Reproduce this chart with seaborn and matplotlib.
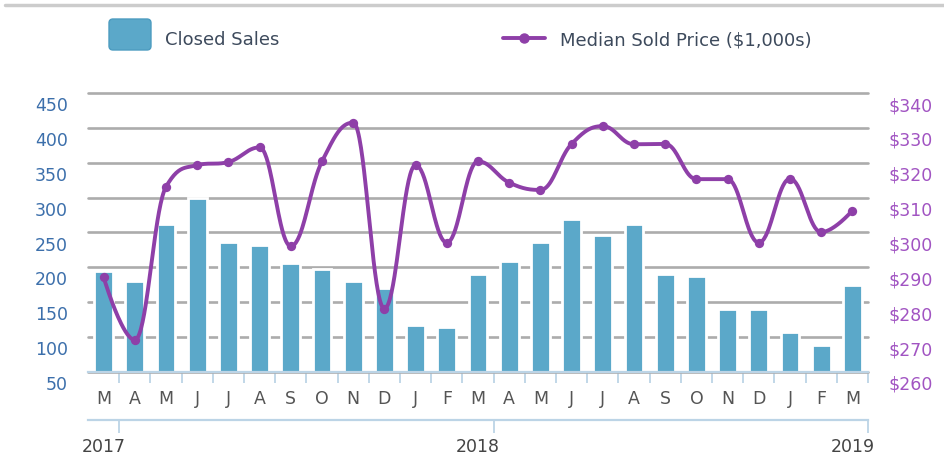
import numpy as np
import pandas as pd
import matplotlib
matplotlib.use("Agg")
import matplotlib.pyplot as plt
import seaborn as sns
from matplotlib.transforms import ScaledTranslation
from matplotlib.patches import FancyBboxPatch
from matplotlib.lines import Line2D

# ---------------- data ----------------
months = ["M", "A", "M", "J", "J", "A", "S", "O", "N", "D", "J", "F",
          "M", "A", "M", "J", "J", "A", "S", "O", "N", "D", "J", "F", "M"]
years = ["2017", "2018", "2019"]
year_positions = [0, 12, 24]
closed_sales = [195, 180, 262, 300, 236, 232, 206, 198, 180, 171, 118, 115,
                190, 209, 236, 270, 247, 262, 190, 187, 141, 141, 107, 88, 175]
median_price = [287.2, 269.2, 313.1, 319.3, 320.2, 324.4, 296.1, 320.4, 331.5,
                278.2, 319.3, 297.1, 320.4, 314.3, 312.2, 325.4, 330.5, 325.3,
                325.4, 315.3, 315.3, 297.1, 315.4, 300.1, 306.3]
left_ticks = [50, 100, 150, 200, 250, 300, 350, 400, 450]
right_ticks = [260, 270, 280, 290, 300, 310, 320, 330, 340]
legend_labels = ["Closed Sales", "Median Sold Price ($1,000s)"]

# ---------------- style ----------------
BAR = "#5ba8c9"
BAR_EDGE = "#4d9cc0"
PURPLE = "#8e3fa8"
RIGHT_LAB = "#a154c2"
LEFT_LAB = "#3c6fab"
AXLINE = "#bcd4e6"
GRID = "#acacac"
MONTH_COL = "#555555"

sns.set_style("white")
plt.rcParams["font.family"] = ["DejaVu Sans"]

W, H = 944, 465
fig = plt.figure(figsize=(W / 100, H / 100), dpi=100)
L, R = 88 / W, 868 / W
B, T = 1 - 372 / H, 1 - 93 / H
ax = fig.add_axes([L, B, R - L, T - B])

n = len(closed_sales)
idx = np.arange(n)
df = pd.DataFrame({"idx": idx, "sales": closed_sales})
sns.barplot(data=df, x="idx", y="sales", color=BAR, saturation=1, width=0.6,
            edgecolor="white", linewidth=2, ax=ax, zorder=2)

ax.set_xlim(-0.5, n - 0.5)
ax.set_ylim(left_ticks[0], left_ticks[-1])
ax.set_xlabel("")
ax.set_ylabel("")
ax.set_axisbelow(True)
ax.xaxis.grid(False)
for s in ["top", "left", "right"]:
    ax.spines[s].set_visible(False)
ax.spines["bottom"].set_color(AXLINE)
ax.spines["bottom"].set_linewidth(1.6)
ax.spines["bottom"].set_zorder(3)

ax.set_yticks(left_ticks)
ax.set_yticklabels([str(v) for v in left_ticks])
ax.tick_params(axis="y", length=0, pad=14.4, labelsize=12.5, labelcolor=LEFT_LAB)
ax.yaxis.grid(True, color=GRID, lw=1.9)
for gl in ax.get_ygridlines():
    gl.set_clip_on(False)

ax.set_xticks(idx + 0.5)
ax.set_xticklabels([""] * n)
ax.set_xticks(idx, minor=True)
ax.set_xticklabels(months, minor=True)
ax.tick_params(axis="x", which="major", bottom=True, length=8, width=1.3,
               color=AXLINE, direction="out")
ax.tick_params(axis="x", which="minor", bottom=True, length=0, pad=13,
               labelsize=12.5, labelcolor=MONTH_COL)

# ---------------- price line ----------------
ax2 = ax.twinx()
ax2.set_ylim(right_ticks[0], right_ticks[-1])
ax2.grid(False)
for s in ax2.spines.values():
    s.set_visible(False)
ax2.set_yticks(right_ticks)
ax2.set_yticklabels(["\\$%d" % v for v in right_ticks])
ax2.tick_params(axis="y", length=0, pad=15, labelsize=12.5, labelcolor=RIGHT_LAB)

# smooth spline through the points (control points as in Highcharts' "spline")
y = np.asarray(median_price, dtype=float)
sm, den = 1.5, 2.5
lc = np.full(n, np.nan)
rc = np.full(n, np.nan)
for i in range(1, n - 1):
    py, ly, ny = y[i], y[i - 1], y[i + 1]
    l = (sm * py + ly) / den
    r = (sm * py + ny) / den
    corr = py - (l + r) / 2
    l += corr
    r += corr
    if l > ly and l > py:
        l = max(ly, py); r = 2 * py - l
    elif l < ly and l < py:
        l = min(ly, py); r = 2 * py - l
    if r > ny and r > py:
        r = max(ny, py); l = 2 * py - r
    elif r < ny and r < py:
        r = min(ny, py); l = 2 * py - r
    lc[i], rc[i] = l, r
cx = 1 / den
xs, ys = [], []
t = np.linspace(0, 1, 40)
for i in range(n - 1):
    x0, x3 = i, i + 1
    x1 = i + cx if i > 0 else i
    x2 = i + 1 - cx if i + 1 < n - 1 else i + 1
    y0, y3 = y[i], y[i + 1]
    y1 = rc[i] if i > 0 else y[i]
    y2 = lc[i + 1] if i + 1 < n - 1 else y[i + 1]
    b0, b1, b2, b3 = (1 - t) ** 3, 3 * t * (1 - t) ** 2, 3 * t ** 2 * (1 - t), t ** 3
    xs.append(b0 * x0 + b1 * x1 + b2 * x2 + b3 * x3)
    ys.append(b0 * y0 + b1 * y1 + b2 * y2 + b3 * y3)
curve = pd.DataFrame({"x": np.concatenate(xs), "y": np.concatenate(ys)})
ax2.plot(curve["x"], curve["y"], color=PURPLE, lw=2.8, zorder=3,
         solid_capstyle="round", solid_joinstyle="round")
sns.scatterplot(x=idx, y=median_price, ax=ax2, color=PURPLE, s=45,
                edgecolor=PURPLE, linewidth=0, zorder=4, legend=False)
ax2.set_ylabel("")

# shift y tick labels slightly below gridlines, like the reference
off = ScaledTranslation(0, -11 / 100, fig.dpi_scale_trans)
for lab in ax.get_yticklabels() + ax2.get_yticklabels():
    lab.set_transform(lab.get_transform() + off)

# ---------------- year axis ----------------
axy = fig.add_axes([L, 1 - 420 / H, R - L, 0.0001])
axy.patch.set_visible(False)
axy.set_xlim(-0.5, n - 0.5)
axy.set_yticks([])
for s in ["top", "left", "right"]:
    axy.spines[s].set_visible(False)
axy.spines["bottom"].set_color(AXLINE)
axy.spines["bottom"].set_linewidth(1.6)
axy.set_xticks([p + 0.5 for p in year_positions])
axy.set_xticklabels([""] * len(years))
axy.set_xticks(year_positions, minor=True)
axy.set_xticklabels(years, minor=True)
axy.tick_params(axis="x", which="major", bottom=True, length=9, width=1.3,
                color=AXLINE, direction="out")
axy.tick_params(axis="x", which="minor", bottom=True, length=0, pad=13,
                labelsize=12.5, labelcolor="#444444")

# ---------------- legend & top rule ----------------
fig.add_artist(Line2D([5 / W, 1.0], [1 - 5 / H] * 2, transform=fig.transFigure,
                      color="#cccccc", lw=2.5))
sq = FancyBboxPatch((1.09, (H - 50) / 100), 0.42, 0.31,
                    boxstyle="round,pad=0,rounding_size=0.04",
                    transform=fig.dpi_scale_trans, facecolor=BAR, edgecolor=BAR_EDGE, lw=1)
fig.add_artist(sq)
fig.text(165 / W, 1 - 40 / H, legend_labels[0], ha="left", va="center",
         fontsize=13, color="#3d4a5c")
fig.add_artist(Line2D([503 / W, 545 / W], [1 - 38 / H] * 2, transform=fig.transFigure,
                      color=PURPLE, lw=2.8))
fig.add_artist(Line2D([524 / W], [1 - 38 / H], transform=fig.transFigure,
                      color=PURPLE, marker="o", markersize=6.5, lw=0))
fig.text(560 / W, 1 - 40 / H, legend_labels[1].replace("$", "\\$"), ha="left",
         va="center", fontsize=13, color="#3d4a5c")

fig.savefig("out.png", dpi=100)
